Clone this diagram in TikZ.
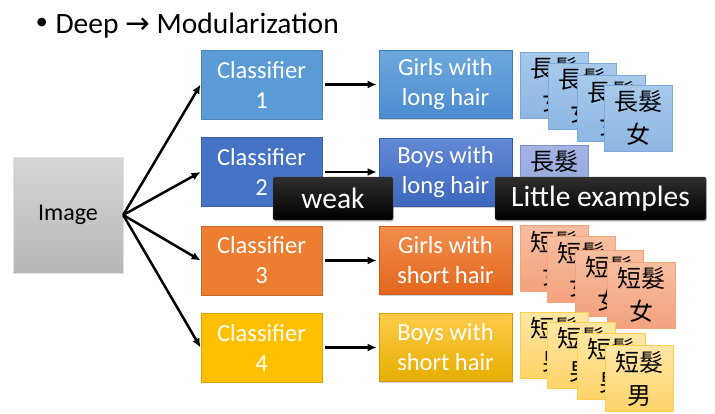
\documentclass[tikz,border=0pt]{standalone}
\usepackage{fontspec}
\setmainfont{Carlito}
\newfontfamily\cjk{Noto Sans CJK TC}
\newfontfamily\symfont{DejaVu Sans}
\usetikzlibrary{shadows, arrows.meta}

\definecolor{imgtop}{HTML}{D5D5D5}
\definecolor{imgbot}{HTML}{B7B7B7}
\definecolor{clsA}{HTML}{5B9BD5}
\definecolor{clsB}{HTML}{4472C4}
\definecolor{clsC}{HTML}{ED7D31}
\definecolor{clsD}{HTML}{FFC000}
\definecolor{catAtop}{HTML}{6EA8DE}
\definecolor{catAbot}{HTML}{4A8BCF}
\definecolor{catBtop}{HTML}{6289D5}
\definecolor{catBbot}{HTML}{3C68BD}
\definecolor{catCtop}{HTML}{F28E4E}
\definecolor{catCbot}{HTML}{E2661C}
\definecolor{catDtop}{HTML}{FFCB4A}
\definecolor{catDbot}{HTML}{E6AE00}
\definecolor{glTop}{HTML}{A7CAEB}
\definecolor{glBot}{HTML}{8DB6E3}
\definecolor{glLine}{HTML}{7DAADD}
\definecolor{blTop}{HTML}{A4B3E2}
\definecolor{blBot}{HTML}{8EA1D8}
\definecolor{blLine}{HTML}{7B91D0}
\definecolor{gsTop}{HTML}{F7BEA0}
\definecolor{gsBot}{HTML}{F4A27F}
\definecolor{gsLine}{HTML}{F2A578}
\definecolor{bsTop}{HTML}{FFE7A6}
\definecolor{bsBot}{HTML}{FFD469}
\definecolor{bsLine}{HTML}{FFCF4D}

\tikzset{
	clsbox/.style={minimum width=121pt, minimum height=69pt, inner sep=0pt, align=center,
		text=white, font=\fontsize{24.5}{30}\selectfont, draw=#1!85!black, line width=0.8pt, fill=#1},
	catbox/.style={minimum width=133pt, minimum height=68pt, inner sep=0pt, align=center,
		text=white, font=\fontsize{24.5}{30}\selectfont, draw=#1bot!90!black, line width=0.6pt,
		top color=#1top, bottom color=#1bot, drop shadow={shadow xshift=1pt, shadow yshift=-1.5pt, opacity=0.35}},
	card/.style={minimum width=68pt, minimum height=66pt, inner sep=0pt, align=center,
		font=\cjk\fontsize{24}{33}\selectfont, draw=#1Line, line width=0.8pt, top color=#1Top, bottom color=#1Bot},
	tag/.style={minimum height=43pt, inner sep=0pt, text=white, font=\fontsize{29.5}{30}\selectfont,
		top color=black!82, bottom color=black, draw=black!70, rounded corners=1.5pt,
		drop shadow={shadow xshift=1pt, shadow yshift=-1.5pt, opacity=0.4}},
	arr/.style={-{Latex[length=9pt, width=8pt]}, line width=2.5pt}
}

\begin{document}
\begin{tikzpicture}[x=1pt, y=-1pt]
	\useasboundingbox (0,0) rectangle (715,413);

	% title
	\node[anchor=base west, inner sep=0pt, font=\fontsize{29.5}{30}\selectfont] (title) at (33,33)
		{{\symfont •}\,Deep {\symfont →} Modularization};

	% input
	\node[minimum width=110pt, minimum height=116pt, inner sep=0pt, top color=imgtop, bottom color=imgbot,
		draw=black!12, font=\fontsize{24}{30}\selectfont] (img) at (68,215) {Image};

	% classifiers
	\node[clsbox=clsA] (cls1) at (261.5,84.5) {Classifier\\1};
	\node[clsbox=clsB] (cls2) at (261.5,172) {Classifier\\2};
	\node[clsbox=clsC] (cls3) at (261.5,260.5) {Classifier\\3};
	\node[clsbox=clsD] (cls4) at (261.5,347.5) {Classifier\\4};

	% classes
	\node[catbox=catA] (cat1) at (445.5,84.5) {Girls with\\long hair};
	\node[catbox=catB] (cat2) at (445.5,172) {Boys with\\long hair};
	\node[catbox=catC] (cat3) at (445.5,260.5) {Girls with\\short hair};
	\node[catbox=catD] (cat4) at (445.5,347.5) {Boys with\\short hair};

	\draw[arr] (img.east) -- (cls1.west);
	\draw[arr] (img.east) -- (cls2.west);
	\draw[arr] (img.east) -- (cls3.west);
	\draw[arr] (img.east) -- (cls4.west);

	\draw[arr, shorten <=3pt, shorten >=2pt] (cls1) -- (cat1);
	\draw[arr, shorten <=3pt, shorten >=2pt] (cls2) -- (cat2);
	\draw[arr, shorten <=3pt, shorten >=2pt] (cls3) -- (cat3);
	\draw[arr, shorten <=3pt, shorten >=2pt] (cls4) -- (cat4);

	% examples
	\node[card=gl] (gl1) at (554,85) {長髮\\女};
	\node[card=gl] (gl2) at (582.5,96) {長髮\\女};
	\node[card=gl] (gl3) at (611,108.5) {長髮\\女};
	\node[card=gl] (gl4) at (638.5,118) {長髮\\女};

	\node[card=bl] (bl1) at (554,178) {長髮\\男};

	\node[card=gs] (gs1) at (554,258.5) {短髮\\女};
	\node[card=gs] (gs2) at (581,269.5) {短髮\\女};
	\node[card=gs] (gs3) at (609.5,283.5) {短髮\\女};
	\node[card=gs] (gs4) at (641,295) {短髮\\女};

	\node[card=bs] (bs1) at (554,345) {短髮\\男};
	\node[card=bs] (bs2) at (581.5,355) {短髮\\男};
	\node[card=bs] (bs3) at (611.5,366) {短髮\\男};
	\node[card=bs] (bs4) at (639,378.5) {短髮\\男};

	% remarks
	\node[tag, minimum width=120pt] (weak) at (333,198.5) {weak};
	\node[tag, minimum width=211pt] (few) at (600.5,198.5) {Little examples};
\end{tikzpicture}
\end{document}
